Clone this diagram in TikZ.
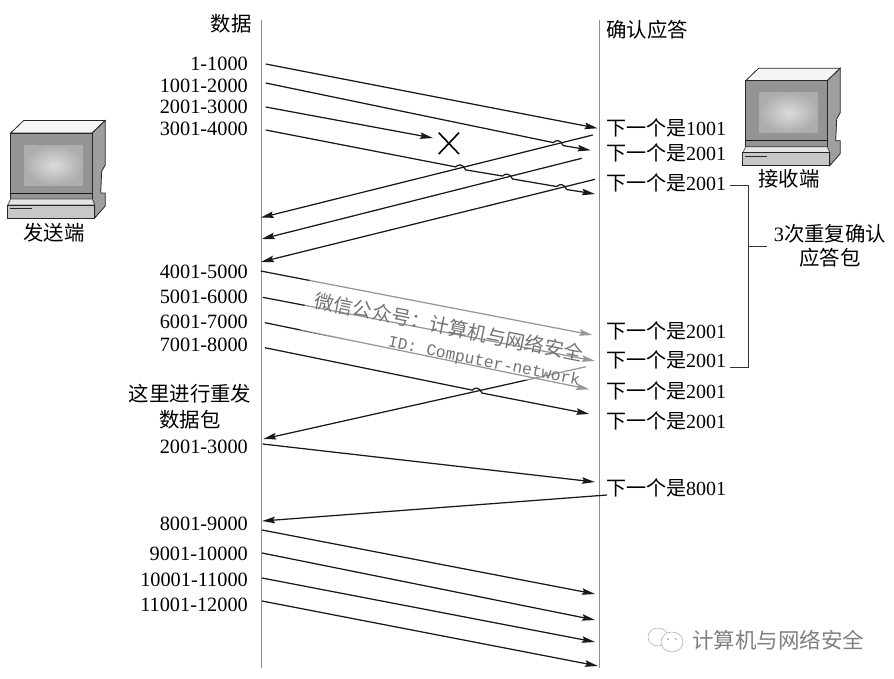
\documentclass[tikz,border=0pt]{standalone}
\usepackage{fontspec}
\setmainfont{Liberation Serif}
\setmonofont{Liberation Mono}
\newfontfamily\cjk{Noto Sans CJK SC}
\usetikzlibrary{arrows.meta,calc}
\newcommand{\ack}[1]{{\cjk 下一个是}#1}
\newcommand{\hump}[1]{-- ($(#1)+(-5,-1)$) .. controls ($(#1)+(-2,-4)$) and ($(#1)+(2,-4)$) .. ($(#1)+(5,2)$)}

\begin{document}
\begin{tikzpicture}[
				x=1pt, y=-1pt,
				seqno/.style={anchor=east, inner sep=0pt, font=\fontsize{20.3}{24}\selectfont},
				ackno/.style={anchor=west, inner sep=0pt, font=\fontsize{20}{24}\selectfont},
				head/.style={inner sep=0pt, font=\fontsize{20.4}{24}\selectfont\cjk},
				stamp/.style={text=black!55, inner sep=0pt, rotate=-11.5},
				lifeline/.style={draw=black!45, line width=0.8pt},
				packet/.style={draw=black!90, line width=1.25pt, -{Stealth[length=13pt,width=6.5pt,inset=2pt]}},
				bracket/.style={draw=black!80, line width=0.9pt},
				pc/.pic={
					\draw[black!85, line width=0.8pt, fill=black!4] (0,0) -- (13,-12.5) -- (94.5,-12.5) -- (81.5,0) -- cycle;
					\draw[black!85, line width=0.8pt, fill=black!38] (81.5,0) -- (94.5,-12.5) -- (94.5,32) -- (91,38) -- (90,60) -- (94.5,60) -- (94.5,73) -- (84,85) -- (84,72) -- (81.5,66) -- cycle;
					\draw[black!85, line width=0.8pt, fill=black!42] (0,0) rectangle (81.5,66);
					\shade[inner color=black!14, outer color=black!32] (14,12) rectangle (72,52);
					\draw[black!90, line width=0.9pt] (0,60) -- (81.5,60);
					\draw[black!70, line width=0.6pt, fill=black!10] (-3,72) -- (0,66) -- (81.5,66) -- (84,72) -- cycle;
					\draw[black!85, line width=0.8pt, fill=black!22] (-3,72) rectangle (84,85);
					\draw[black!85, line width=1.2pt] (-1,75.5) -- (21,75.5);
				}
			]
			\useasboundingbox (0,0) rectangle (894,678);
			% lifelines
			\coordinate (sendtop) at (261,20);
			\coordinate (sendbot) at (261,668);
			\coordinate (recvtop) at (599.5,20);
			\coordinate (recvbot) at (599.5,668);
			\draw[lifeline] (sendtop) -- (sendbot);
			\draw[lifeline] (recvtop) -- (recvbot);

			% headers and hosts
			\node[head] (data) at (231,24) {数据};
			\node[head] (acks) at (647,30) {确认应答};
			\pic at (10.7,133) {pc};
			\pic at (745.7,80.7) {pc};
			\node[head, fill=white, inner xsep=2pt, inner ysep=1pt] (sender) at (54,233) {发送端};
			\node[head, fill=white, inner xsep=2pt, inner ysep=1pt] (receiver) at (789,179) {接收端};

			% left labels
			\node[seqno] (s1) at (248,64) {1-1000};
			\node[seqno] (s2) at (248,86) {1001-2000};
			\node[seqno] (s3) at (248,107) {2001-3000};
			\node[seqno] (s4) at (248,129) {3001-4000};
			\node[seqno] (s5) at (248,272) {4001-5000};
			\node[seqno] (s6) at (248,297) {5001-6000};
			\node[seqno] (s7) at (248,322) {6001-7000};
			\node[seqno] (s8) at (248,345) {7001-8000};
			\node[head] (resend1) at (190,394) {这里进行重发};
			\node[head] (resend2) at (190,420) {数据包};
			\node[seqno] (s9) at (248,447) {2001-3000};
			\node[seqno] (s10) at (248,524) {8001-9000};
			\node[seqno] (s11) at (248,554) {9001-10000};
			\node[seqno] (s12) at (248,580) {10001-11000};
			\node[seqno] (s13) at (248,605) {11001-12000};

			% right labels
			\node[ackno] (a1) at (606,128) {\ack{1001}};
			\node[ackno] (a2) at (606,153) {\ack{2001}};
			\node[ackno] (a3) at (606,183) {\ack{2001}};
			\node[ackno] (a4) at (606,331) {\ack{2001}};
			\node[ackno] (a5) at (606,360) {\ack{2001}};
			\node[ackno] (a6) at (606,391) {\ack{2001}};
			\node[ackno] (a7) at (606,421) {\ack{2001}};
			\node[ackno] (a8) at (606,488) {\ack{8001}};

			% arrow ends, sender side
			\coordinate (p1) at (265.7,64);
			\coordinate (p2) at (265.7,83);
			\coordinate (p3) at (265.7,107);
			\coordinate (p4) at (265.7,130);
			\coordinate (p5) at (260.7,271);
			\coordinate (p6) at (262.7,297.3);
			\coordinate (p7) at (265,322.7);
			\coordinate (p8) at (265,347.7);
			\coordinate (p9) at (262.7,444);
			\coordinate (p10) at (262,530);
			\coordinate (p11) at (262,553);
			\coordinate (p12) at (262,578);
			\coordinate (p13) at (262,601);
			\coordinate (b1) at (260.7,217.7);
			\coordinate (b2) at (261.7,239);
			\coordinate (b3) at (261,262);
			\coordinate (b4) at (263.3,439);
			\coordinate (b5) at (262,521);
			% arrow ends, receiver side
			\coordinate (q1) at (597.7,128.3);
			\coordinate (q2) at (590.7,150.3);
			\coordinate (q3) at (433,138);
			\coordinate (q4) at (595,194);
			\coordinate (q5) at (592.3,335);
			\coordinate (q6) at (595,361);
			\coordinate (q7) at (589.3,389.3);
			\coordinate (q8) at (589.3,414);
			\coordinate (q9) at (595,482);
			\coordinate (q10) at (595,594);
			\coordinate (q11) at (595,620);
			\coordinate (q12) at (595,642);
			\coordinate (q13) at (598,666);
			\coordinate (r1) at (592.7,135);
			\coordinate (r2) at (581.7,158.3);
			\coordinate (r3) at (595,179.3);
			\coordinate (r4) at (586,366.7);
			\coordinate (r5) at (607,495);
			% crossings
			\coordinate (c1) at (intersection of p2--q2 and r1--b1);
			\coordinate (c2) at (intersection of p4--q4 and r1--b1);
			\coordinate (c3) at (intersection of p4--q4 and r2--b2);
			\coordinate (c4) at (intersection of p4--q4 and r3--b3);
			\coordinate (c5) at (intersection of p8--q8 and r4--b4);

			\begin{scope}[every path/.append style={packet}]
			\draw (p1) -- (q1);
			\draw (p2) \hump{c1} -- (q2);
			\draw (p3) -- (q3);
			\draw (p4) \hump{c2} \hump{c3} \hump{c4} -- (q4);
			\draw (r1) -- (b1);
			\draw (r2) -- (b2);
			\draw (r3) -- (b3);
			\draw (p5) -- (q5);
			\draw (p6) -- (q6);
			\draw (p7) -- (q7);
			\draw (p8) \hump{c5} -- (q8);
			\draw (r4) -- (b4);
			\draw (p9) -- (q9);
			\draw (r5) -- (b5);
			\draw (p10) -- (q10);
			\draw (p11) -- (q11);
			\draw (p12) -- (q12);
			\draw (p13) -- (q13);
			\end{scope}

			% lost packet
			\coordinate (lost1) at (438.7,132.7);
			\coordinate (lost2) at (459,154);
			\coordinate (lost3) at (438.7,154);
			\coordinate (lost4) at (459,132.7);
			\draw[line width=1.6pt] (lost1) -- (lost2);
			\draw[line width=1.6pt] (lost3) -- (lost4);

			% three duplicate acks
			\coordinate (br1) at (730,185);
			\coordinate (br2) at (748,185);
			\coordinate (br3) at (748,367);
			\coordinate (br4) at (730,367);
			\coordinate (br5) at (748,246);
			\coordinate (br6) at (767,246);
			\draw[bracket] (br1) -- (br2) -- (br3) -- (br4);
			\draw[bracket] (br5) -- (br6);
			\node[inner sep=0pt, font=\fontsize{20.4}{24}\selectfont] (dup) at (830,234) {3{\cjk 次重复确认}};
			\node[head] (dup2) at (830,258) {应答包};

			% watermark over the drawing
			\fill[white, opacity=.55] (310,278) -- (598,325) -- (598,396) -- (300,330) -- cycle;
			\node[stamp, font=\fontsize{19.5}{22}\selectfont\cjk] (wm1) at (449,327) {微信公众号：计算机与网络安全};
			\node[stamp, font=\fontsize{16.3}{20}\selectfont\ttfamily] (wm2) at (484,362) {ID: Computer-network};

			% logo
			\draw[black!35, line width=0.5pt] (658,637) ellipse (10 and 9);
			\draw[black!35, line width=0.5pt, fill=white] (672,642) ellipse (11 and 10);
			\fill[black!35] (668,639) circle (1);
			\fill[black!35] (676,639) circle (1);
			\node[text=black!50, inner sep=0pt, font=\fontsize{21.5}{26}\selectfont\cjk] (logo) at (778,640) {计算机与网络安全};
			\end{tikzpicture}
\end{document}
